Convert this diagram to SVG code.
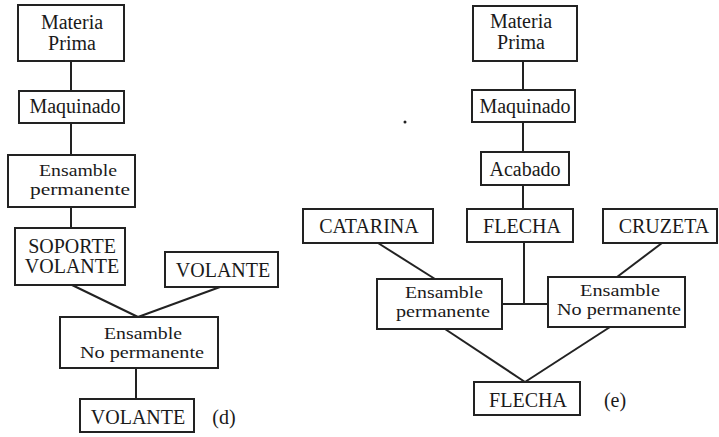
<svg xmlns="http://www.w3.org/2000/svg" width="719" height="437" viewBox="0 0 719 437">
  <style>
    .box { fill: #fff; stroke: #222; stroke-width: 2; }
    .ln { fill: none; stroke: #222; stroke-width: 2; }
    text { font-family: "Liberation Serif", "Times New Roman", serif; font-size: 20px; fill: #1a1a1a; text-anchor: middle; }
    text.sm { font-size: 17px; }
  </style>
  <rect width="719" height="437" fill="#fff"/>

  <!-- connectors -->
  <g id="connectors">
    <!-- chart (d) -->
    <line class="ln" x1="71" y1="61" x2="71" y2="91"/>
    <line class="ln" x1="71" y1="123" x2="71" y2="155"/>
    <line class="ln" x1="71" y1="207" x2="71" y2="228"/>
    <line class="ln" x1="72" y1="285" x2="138" y2="317"/>
    <line class="ln" x1="220" y1="287" x2="138" y2="317"/>
    <line class="ln" x1="136" y1="368" x2="136" y2="399"/>
    <!-- chart (e) -->
    <line class="ln" x1="523" y1="61" x2="523" y2="90"/>
    <line class="ln" x1="523" y1="122" x2="523" y2="152"/>
    <line class="ln" x1="523" y1="185" x2="523" y2="209"/>
    <line class="ln" x1="378" y1="243" x2="435" y2="279"/>
    <line class="ln" x1="524" y1="242" x2="524" y2="304"/>
    <line class="ln" x1="502" y1="304" x2="548" y2="304"/>
    <line class="ln" x1="662" y1="243" x2="617" y2="277"/>
    <line class="ln" x1="445" y1="329" x2="525" y2="382"/>
    <line class="ln" x1="610" y1="327" x2="525" y2="382"/>
  </g>

  <!-- chart (d) nodes -->
  <g id="d-materia-prima">
    <rect class="box" x="18" y="5" width="106" height="56"/>
    <text x="72" y="29">Materia</text>
    <text x="72" y="50">Prima</text>
  </g>
  <g id="d-maquinado">
    <rect class="box" x="19" y="91" width="105" height="32"/>
    <text x="75" y="113">Maquinado</text>
  </g>
  <g id="d-ensamble-permanente">
    <rect class="box" x="8" y="155" width="127" height="52"/>
    <text class="sm" x="78" y="176" textLength="78" lengthAdjust="spacingAndGlyphs">Ensamble</text>
    <text class="sm" x="80" y="195" textLength="100" lengthAdjust="spacingAndGlyphs">permanente</text>
  </g>
  <g id="d-soporte-volante">
    <rect class="box" x="15" y="228" width="110" height="57"/>
    <text x="72" y="253">SOPORTE</text>
    <text x="72" y="273">VOLANTE</text>
  </g>
  <g id="d-volante-in">
    <rect class="box" x="165" y="252" width="113" height="35"/>
    <text x="223" y="277">VOLANTE</text>
  </g>
  <g id="d-ensamble-no-permanente">
    <rect class="box" x="60" y="317" width="158" height="51"/>
    <text class="sm" x="143" y="339" textLength="78" lengthAdjust="spacingAndGlyphs">Ensamble</text>
    <text class="sm" x="142" y="358" textLength="124" lengthAdjust="spacingAndGlyphs">No permanente</text>
  </g>
  <g id="d-volante-out">
    <rect class="box" x="80" y="399" width="114" height="33"/>
    <text x="138" y="424">VOLANTE</text>
  </g>
  <text x="224" y="424">(d)</text>

  <!-- chart (e) nodes -->
  <g id="e-materia-prima">
    <rect class="box" x="473" y="6" width="104" height="55"/>
    <text x="521" y="28">Materia</text>
    <text x="521" y="49">Prima</text>
  </g>
  <g id="e-maquinado">
    <rect class="box" x="472" y="90" width="103" height="32"/>
    <text x="525" y="113">Maquinado</text>
  </g>
  <g id="e-acabado">
    <rect class="box" x="481" y="152" width="88" height="33"/>
    <text x="525" y="176">Acabado</text>
  </g>
  <g id="e-catarina">
    <rect class="box" x="303" y="209" width="130" height="34"/>
    <text x="369" y="233">CATARINA</text>
  </g>
  <g id="e-flecha-in">
    <rect class="box" x="467" y="209" width="106" height="33"/>
    <text x="522" y="233">FLECHA</text>
  </g>
  <g id="e-cruzeta">
    <rect class="box" x="603" y="209" width="114" height="34"/>
    <text x="664" y="233">CRUZETA</text>
  </g>
  <g id="e-ensamble-permanente">
    <rect class="box" x="377" y="279" width="125" height="50"/>
    <text class="sm" x="444" y="298" textLength="78" lengthAdjust="spacingAndGlyphs">Ensamble</text>
    <text class="sm" x="443" y="317" textLength="94" lengthAdjust="spacingAndGlyphs">permanente</text>
  </g>
  <g id="e-ensamble-no-permanente">
    <rect class="box" x="548" y="277" width="137" height="50"/>
    <text class="sm" x="620" y="296" textLength="80" lengthAdjust="spacingAndGlyphs">Ensamble</text>
    <text class="sm" x="619" y="315" textLength="124" lengthAdjust="spacingAndGlyphs">No permanente</text>
  </g>
  <g id="e-flecha-out">
    <rect class="box" x="474" y="382" width="106" height="33"/>
    <text x="528" y="407">FLECHA</text>
  </g>
  <text x="615" y="407">(e)</text>

  <circle cx="405" cy="122" r="1.5" fill="#222"/>
</svg>
